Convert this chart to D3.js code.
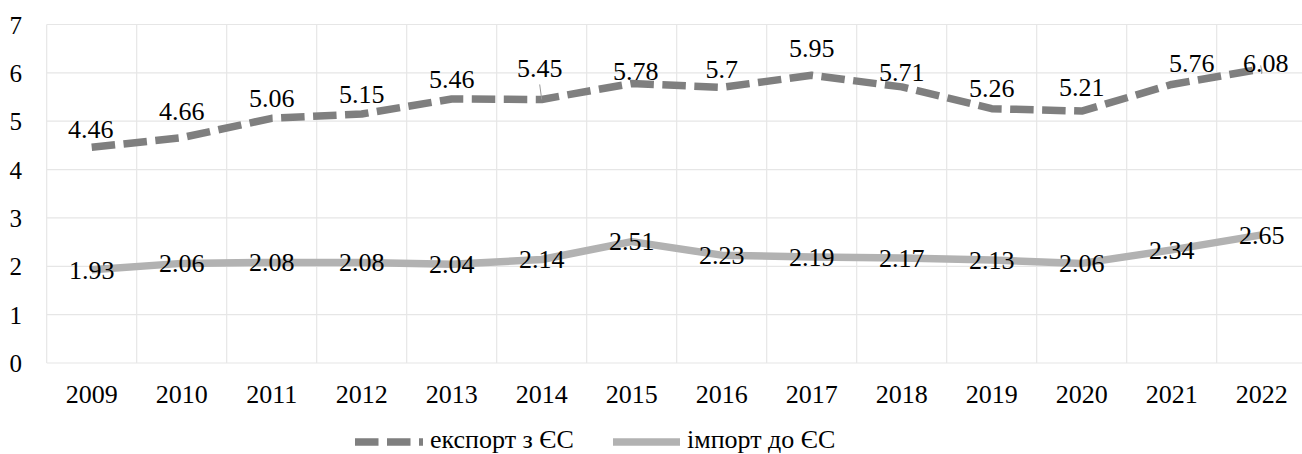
<!DOCTYPE html>
<html>
<head>
<meta charset="utf-8">
<script src="https://cdn.jsdelivr.net/npm/d3@7"></script>
<style>
  html, body { margin: 0; padding: 0; background: #fff; overflow: hidden; }
  svg { display: block; }
  svg text { font-family: "Liberation Serif", Tinos, "Times New Roman", "DejaVu Serif", serif !important; }
</style>
</head>
<body>
<svg id="chart" width="1302" height="454"></svg>
<script>
// data
var years = ['2009', '2010', '2011', '2012', '2013', '2014', '2015',
             '2016', '2017', '2018', '2019', '2020', '2021', '2022'];
var exportEU = [4.46, 4.66, 5.06, 5.15, 5.46, 5.45, 5.78, 5.7, 5.95, 5.71, 5.26, 5.21, 5.76, 6.08];
var importEU = [1.93, 2.06, 2.08, 2.08, 2.04, 2.14, 2.51, 2.23, 2.19, 2.17, 2.13, 2.06, 2.34, 2.65];
var yTicks = [0, 1, 2, 3, 4, 5, 6, 7];
var seriesNames = ['експорт з ЄС', 'імпорт до ЄС'];

// label placement, hand-moved in the original (dx, dy from the point)
var labelNudge = {
    '2009': [-1, -18], '2010': [0, -26], '2014': [-2, -31], '2015': [4, -12],
    '2016': [0, -18], '2017': [0, -27], '2018': [0, -15], '2020': [0, -24],
    '2021': [20, -21], '2022': [4, -6]
};
// leader lines: far end relative to the point
var leaders = { '2014': [-2, -15], '2022': [0, 5] };

(function() {
    var svg = d3.select('#chart');
    var plotLeft = 46.7, plotTop = 24.5, plotBottom = 363, band = 90;
    var plotRight = plotLeft + band * years.length;

    var x = d3.scaleBand().domain(years).range([plotLeft, plotRight]);
    var y = d3.scaleLinear().domain([0, 7]).range([plotBottom, plotTop]);
    var cx = function(d) { return x(d) + x.bandwidth() / 2; };

    // grid
    var grid = svg.append('g').attr('stroke', '#e6e6e6').attr('stroke-width', 1.2);
    grid.selectAll('line.h').data(yTicks).enter().append('line')
        .attr('x1', plotLeft).attr('x2', plotRight)
        .attr('y1', function(d) { return y(d); }).attr('y2', function(d) { return y(d); });
    grid.selectAll('line.v').data(d3.range(years.length + 1)).enter().append('line')
        .attr('x1', function(i) { return plotLeft + i * band; })
        .attr('x2', function(i) { return plotLeft + i * band; })
        .attr('y1', plotTop).attr('y2', plotBottom);

    // axes (labels only)
    var yAxis = d3.axisLeft(y).tickValues(yTicks).tickFormat(d3.format('d'))
        .tickSize(0).tickPadding(0);
    svg.append('g').attr('transform', 'translate(22,0)').call(yAxis)
        .call(function(g) { g.select('.domain').remove(); })
        .selectAll('text')
        .attr('font-size', 25).attr('fill', '#000').attr('dy', '0.34em');

    var xAxis = d3.axisBottom(x).tickSize(0).tickPadding(0);
    svg.append('g').attr('transform', 'translate(0,394)').call(xAxis)
        .call(function(g) { g.select('.domain').remove(); })
        .selectAll('text')
        .attr('font-size', 26).attr('fill', '#000').attr('dy', '0.34em');

    // lines
    var line = d3.line()
        .x(function(d, i) { return cx(years[i]); })
        .y(function(d) { return y(d); });

    svg.append('path').attr('d', line(importEU))
        .attr('fill', 'none').attr('stroke', '#b2b2b2').attr('stroke-width', 7.5)
        .attr('stroke-linejoin', 'round');

    svg.append('path').attr('d', line(exportEU))
        .attr('fill', 'none').attr('stroke', '#7f7f7f').attr('stroke-width', 7.5)
        .attr('stroke-dasharray', '23.5 8.5').attr('stroke-linejoin', 'round');

    // leader lines
    years.forEach(function(yr, i) {
        if (!leaders[yr]) return;
        var px = cx(yr), py = y(exportEU[i]);
        svg.append('line')
            .attr('x1', px + leaders[yr][0]).attr('y1', py + leaders[yr][1])
            .attr('x2', px).attr('y2', py)
            .attr('stroke', '#9a9a9a').attr('stroke-width', 1);
    });

    // data labels
    var nudge = function(i) { return labelNudge[years[i]] || [0, -20]; };
    svg.append('g').selectAll('text').data(exportEU).enter().append('text')
        .attr('x', function(d, i) { return cx(years[i]) + nudge(i)[0]; })
        .attr('y', function(d, i) { return y(d) + nudge(i)[1]; })
        .attr('dy', '0.34em').attr('text-anchor', 'middle')
        .attr('font-size', 26).attr('fill', '#000')
        .text(function(d) { return d; });

    svg.append('g').selectAll('text').data(importEU).enter().append('text')
        .attr('x', function(d, i) { return cx(years[i]); })
        .attr('y', function(d) { return y(d); })
        .attr('dy', '0.34em').attr('text-anchor', 'middle')
        .attr('font-size', 26).attr('fill', '#000')
        .text(function(d) { return d; });

    // legend
    var legend = svg.append('g').attr('font-size', 26);
    legend.append('line').attr('x1', 355).attr('x2', 423).attr('y1', 442).attr('y2', 442)
        .attr('stroke', '#7f7f7f').attr('stroke-width', 7.5).attr('stroke-dasharray', '23.5 8.5');
    legend.append('text').attr('x', 430).attr('y', 448)
        .text(seriesNames[0]);
    legend.append('line').attr('x1', 613).attr('x2', 680).attr('y1', 442).attr('y2', 442)
        .attr('stroke', '#b2b2b2').attr('stroke-width', 7.5);
    legend.append('text').attr('x', 687).attr('y', 448)
        .text(seriesNames[1]);
})();
</script>
</body>
</html>
